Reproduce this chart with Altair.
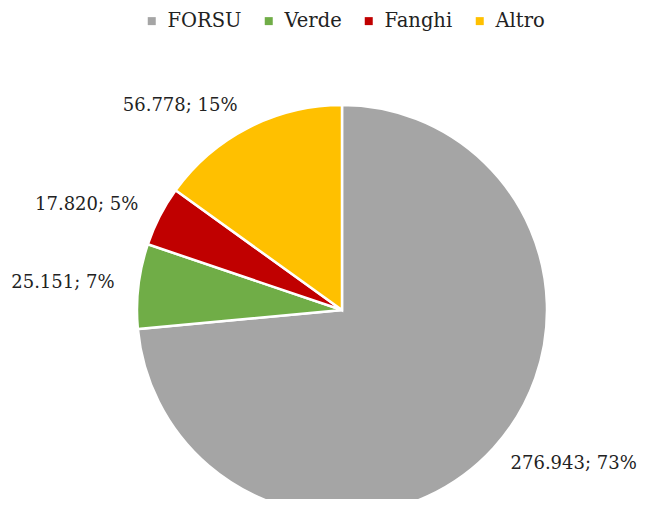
import altair as alt
import pandas as pd

categories = ["FORSU", "Verde", "Fanghi", "Altro"]
values = [276943, 25151, 17820, 56778]
percents = [73, 7, 5, 15]
colors = ["#A5A5A5", "#70AD47", "#C00000", "#FFC000"]
label_side = ["right", "left", "left", "left"]

def fmt(v):
    return f"{v:,}".replace(",", ".")

labels = [f"{fmt(v)}; {p}%" for v, p in zip(values, percents)]

df = pd.DataFrame({
    "cat": categories,
    "value": values,
    "order": list(range(len(categories))),
    "label_left": [l if s == "left" else "" for l, s in zip(labels, label_side)],
    "label_right": [l if s == "right" else "" for l, s in zip(labels, label_side)],
})

FONT = "DejaVu Serif"
CX, CY, R = 334, 302, 205

color = alt.Color(
    "cat:N",
    scale=alt.Scale(domain=categories, range=colors),
    sort=categories,
    legend=alt.Legend(
        title=None, orient="none", direction="horizontal",
        legendX=134, legendY=3,
        symbolType="square", symbolSize=64, symbolStrokeWidth=0,
        labelFont=FONT, labelFontSize=19.5, labelColor="#222222",
        labelOffset=6, columnPadding=17,
    ),
)

base = alt.Chart(df).encode(
    theta=alt.Theta("value:Q", stack=True),
    order=alt.Order("order:Q"),
    x=alt.value(CX), y=alt.value(CY),
)

pie = base.mark_arc(stroke="white", strokeWidth=2.5, outerRadius=R).encode(
    color=color,
)

txt_left = base.mark_text(
    radius=229, align="right", baseline="middle",
    font=FONT, fontSize=18, color="#222222",
).encode(text="label_left:N")

txt_right = base.mark_text(
    radius=228, align="left", baseline="middle",
    font=FONT, fontSize=18, color="#222222",
).encode(text="label_right:N")

chart = alt.layer(pie, txt_left, txt_right).properties(
    width=629, height=491, padding=0,
    autosize=alt.AutoSizeParams(type="none"),
).configure_view(stroke=None)

chart.save("out.html", embed_options={"renderer": "svg", "actions": False})
